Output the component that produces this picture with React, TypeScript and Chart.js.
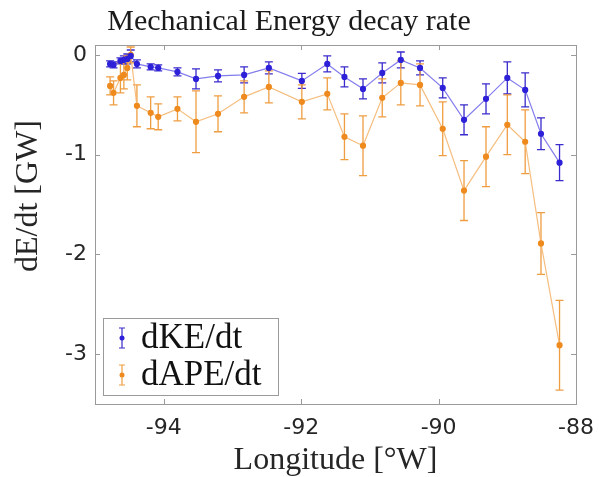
import React, { useEffect, useRef } from "react";
import { Chart, registerables } from "chart.js";

Chart.register(...registerables);

const longitudes = [-94.78, -94.73, -94.63, -94.58, -94.53, -94.48, -94.39, -94.19, -94.08, -93.8, -93.53, -93.21, -92.83, -92.47, -91.99, -91.62, -91.37, -91.1, -90.82, -90.55, -90.27, -89.94, -89.63, -89.31, -89.0, -88.74, -88.51, -88.24];
const keValues = [-0.09, -0.1, -0.06, -0.05, -0.04, -0.01, -0.09, -0.12, -0.13, -0.17, -0.24, -0.21, -0.2, -0.13, -0.26, -0.09, -0.22, -0.34, -0.18, -0.05, -0.13, -0.33, -0.65, -0.44, -0.23, -0.35, -0.79, -1.08];
const keErrors = [0.03, 0.03, 0.03, 0.04, 0.05, 0.06, 0.04, 0.03, 0.03, 0.04, 0.1, 0.06, 0.08, 0.06, 0.075, 0.08, 0.1, 0.1, 0.1, 0.08, 0.07, 0.1, 0.15, 0.15, 0.16, 0.17, 0.16, 0.18];
const apeValues = [-0.31, -0.38, -0.23, -0.2, -0.13, 0.0, -0.51, -0.58, -0.62, -0.54, -0.67, -0.59, -0.42, -0.32, -0.47, -0.39, -0.82, -0.91, -0.43, -0.28, -0.3, -0.74, -1.36, -1.02, -0.7, -0.87, -1.89, -2.91];
const apeErrors = [0.09, 0.12, 0.15, 0.14, 0.12, 0.08, 0.21, 0.16, 0.13, 0.12, 0.31, 0.18, 0.16, 0.16, 0.17, 0.16, 0.23, 0.3, 0.19, 0.22, 0.21, 0.27, 0.3, 0.3, 0.3, 0.32, 0.31, 0.45];
const xTicks = [-94, -92, -90, -88];
const yTicks = [0, -1, -2, -3];
const seriesNames = ["dKE/dt", "dAPE/dt"];

const TITLE = "Mechanical Energy decay rate";
const X_TITLE = "Longitude [\u00B0W]";
const Y_TITLE = "dE/dt [GW]";

const SERIF = "'Liberation Serif', 'DejaVu Serif', serif";
const SANS = "'DejaVu Sans', sans-serif";

const BLUE = { point: "#2d20d8", line: "rgba(90,80,230,0.75)", err: "#3a2bcc" };
const ORANGE = { point: "#ee8a1e", line: "rgba(244,182,112,0.9)", err: "rgba(238,152,55,0.95)" };

const errorBarPlugin = {
  id: "errorBars",
  beforeDatasetsDraw(chart: any) {
    const ctx = chart.ctx;
    const ys = chart.scales.y;
    const xs = chart.scales.x;
    chart.data.datasets.forEach((ds: any) => {
      const errs: number[] = ds.errors;
      if (!errs) return;
      ctx.save();
      ctx.strokeStyle = ds.errColor;
      ctx.lineWidth = 1.3;
      ds.data.forEach((p: any, i: number) => {
        const px = xs.getPixelForValue(p.x);
        const top = ys.getPixelForValue(p.y + errs[i]);
        const bot = ys.getPixelForValue(p.y - errs[i]);
        ctx.beginPath();
        ctx.moveTo(px, top);
        ctx.lineTo(px, bot);
        ctx.moveTo(px - 4, top);
        ctx.lineTo(px + 4, top);
        ctx.moveTo(px - 4, bot);
        ctx.lineTo(px + 4, bot);
        ctx.stroke();
      });
      ctx.restore();
    });
  },
};

const framePlugin = {
  id: "frame",
  afterDraw(chart: any) {
    const ctx = chart.ctx;
    const { left, right, top, bottom } = chart.chartArea;
    const xs = chart.scales.x;
    const ys = chart.scales.y;
    ctx.save();
    ctx.strokeStyle = "#9a9a9a";
    ctx.lineWidth = 1;
    ctx.beginPath();
    xs.ticks.forEach((t: any) => {
      const px = Math.round(xs.getPixelForValue(t.value)) + 0.5;
      ctx.moveTo(px, bottom);
      ctx.lineTo(px, bottom - 5);
      ctx.moveTo(px, top);
      ctx.lineTo(px, top + 5);
    });
    ys.ticks.forEach((t: any) => {
      const py = Math.round(ys.getPixelForValue(t.value)) + 0.5;
      ctx.moveTo(left, py);
      ctx.lineTo(left + 5, py);
      ctx.moveTo(right, py);
      ctx.lineTo(right - 5, py);
    });
    ctx.stroke();
    ctx.strokeRect(Math.round(left) + 0.5, Math.round(top) + 0.5, Math.round(right - left), Math.round(bottom - top));

    // y-axis title
    ctx.save();
    ctx.translate(29, 196);
    ctx.rotate(-Math.PI / 2);
    ctx.fillStyle = "#262626";
    ctx.font = `32px ${SERIF}`;
    ctx.textAlign = "center";
    ctx.textBaseline = "middle";
    ctx.fillText(Y_TITLE, 0, 0);
    ctx.restore();

    // legend
    const lx = left + 8;
    const ly = bottom - 86;
    const lw = 175;
    const lh = 77;
    ctx.fillStyle = "#ffffff";
    ctx.fillRect(lx, ly, lw, lh);
    ctx.strokeStyle = "#9a9a9a";
    ctx.strokeRect(Math.round(lx) + 0.5, Math.round(ly) + 0.5, lw, lh);
    const items = [
      { name: seriesNames[0], c: BLUE, y: ly + 20 },
      { name: seriesNames[1], c: ORANGE, y: ly + 57 },
    ];
    items.forEach((it) => {
      const ix = lx + 19;
      ctx.strokeStyle = it.c.err;
      ctx.lineWidth = 1.2;
      ctx.beginPath();
      ctx.moveTo(ix, it.y - 10);
      ctx.lineTo(ix, it.y + 10);
      ctx.moveTo(ix - 3, it.y - 10);
      ctx.lineTo(ix + 3, it.y - 10);
      ctx.moveTo(ix - 3, it.y + 10);
      ctx.lineTo(ix + 3, it.y + 10);
      ctx.stroke();
      ctx.fillStyle = it.c.point;
      ctx.beginPath();
      ctx.arc(ix, it.y, 2.5, 0, Math.PI * 2);
      ctx.fill();
      ctx.fillStyle = "#111";
      ctx.font = `35px ${SERIF}`;
      ctx.textAlign = "left";
      ctx.textBaseline = "middle";
      ctx.fillText(it.name, lx + 38, it.y + 1);
    });
    ctx.restore();
  },
};

export default function App() {
  const ref = useRef<HTMLCanvasElement | null>(null);
  useEffect(() => {
    document.body.style.margin = "0";
    if (!ref.current) return;
    const chart = new Chart(ref.current, {
      type: "line",
      data: {
        datasets: [
          {
            label: seriesNames[0],
            data: longitudes.map((x, i) => ({ x, y: keValues[i] })),
            borderColor: BLUE.line,
            backgroundColor: BLUE.point,
            pointBackgroundColor: BLUE.point,
            pointBorderColor: BLUE.point,
            borderWidth: 1.2,
            pointRadius: 2.5,
            errors: keErrors,
            errColor: BLUE.err,
          } as any,
          {
            label: seriesNames[1],
            data: longitudes.map((x, i) => ({ x, y: apeValues[i] })),
            borderColor: ORANGE.line,
            backgroundColor: ORANGE.point,
            pointBackgroundColor: ORANGE.point,
            pointBorderColor: ORANGE.point,
            borderWidth: 1.2,
            pointRadius: 2.5,
            errors: apeErrors,
            errColor: ORANGE.err,
          } as any,
        ],
      },
      options: {
        responsive: false,
        animation: false,
        events: [],
        layout: { padding: { left: 0, right: 27, top: 0, bottom: 0 } },
        plugins: {
          legend: { display: false },
          tooltip: { enabled: false },
          title: {
            display: true,
            text: TITLE,
            color: "#1a1a1a",
            font: { family: SERIF, size: 30, weight: "normal" as any, lineHeight: 1.2 },
            padding: { top: 4, bottom: 5 },
          },
        },
        scales: {
          x: {
            type: "linear",
            min: -95,
            max: -88,
            afterBuildTicks: (s: any) => {
              s.ticks = xTicks.map((v) => ({ value: v }));
            },
            afterFit: (s: any) => {
              s.height = 73;
            },
            grid: { display: false, drawTicks: false },
            border: { display: false },
            ticks: {
              color: "#262626",
              font: { family: SANS, size: 22 },
              padding: 11,
              maxRotation: 0,
              callback: (v: any) => String(v),
            },
            title: {
              display: true,
              text: X_TITLE,
              color: "#262626",
              font: { family: SERIF, size: 32, lineHeight: 1.0 },
              padding: { top: 0, bottom: 0 },
            },
          },
          y: {
            type: "linear",
            min: -3.5,
            max: 0.1,
            afterBuildTicks: (s: any) => {
              s.ticks = yTicks.map((v) => ({ value: v }));
            },
            afterFit: (s: any) => {
              s.width = 95;
            },
            grid: { display: false, drawTicks: false },
            border: { display: false },
            ticks: {
              color: "#262626",
              font: { family: SANS, size: 22 },
              padding: 8,
              callback: (v: any) => String(v),
            },
          },
        },
      },
      plugins: [errorBarPlugin, framePlugin],
    });
    return () => chart.destroy();
  }, []);
  return (
    <div style={{ position: "absolute", left: 0, top: 0, width: 605, height: 477, background: "#fff" }}>
      <canvas ref={ref} width={605} height={477} style={{ width: 605, height: 477 }} />
    </div>
  );
}
